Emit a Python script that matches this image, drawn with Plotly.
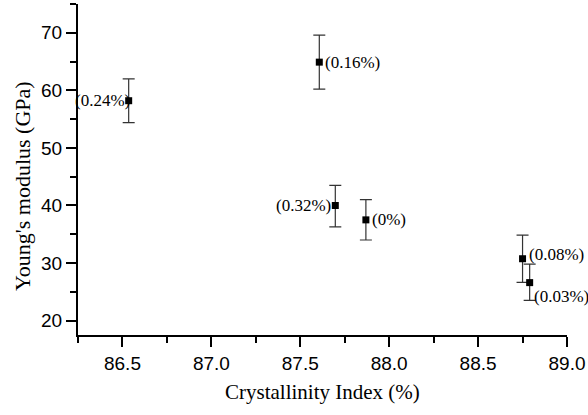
import plotly.graph_objects as go

labels = ["(0.24%)", "(0.16%)", "(0.32%)", "(0%)", "(0.08%)", "(0.03%)"]
crystallinity = [86.535, 87.607, 87.697, 87.869, 88.75, 88.79]
modulus = [58.2, 64.9, 40.0, 37.5, 30.75, 26.6]
err_plus = [3.8, 4.7, 3.5, 3.5, 4.1, 3.2]
err_minus = [3.8, 4.7, 3.7, 3.5, 4.1, 3.1]

label_anchor = ["right", "left", "right", "left", "left", "left"]
label_xshift = [3, 4, -2, 4, 4, 2]
label_yshift = [0, 0, 0, 0, 4, -14]

SERIF = "Liberation Serif, Times New Roman, serif"
SANS = "Liberation Sans, Arial, sans-serif"

fig = go.Figure()
fig.add_trace(go.Scatter(
    x=crystallinity, y=modulus, mode="markers",
    marker=dict(symbol="square", size=7, color="black"),
    error_y=dict(type="data", array=err_plus, arrayminus=err_minus,
                 color="#333333", thickness=1.2, width=6, visible=True),
    showlegend=False, cliponaxis=False,
))

for lab, xv, yv, anc, xs, ys in zip(labels, crystallinity, modulus, label_anchor, label_xshift, label_yshift):
    fig.add_annotation(x=xv, y=yv, text=lab, showarrow=False, xanchor=anc, yanchor="middle",
                       xshift=xs, yshift=ys, font=dict(family=SERIF, size=17, color="black"))

fig.add_annotation(xref="paper", yref="paper", x=0.5, y=-0.172, text="Crystallinity Index (%)",
                   showarrow=False, xanchor="center", yanchor="middle",
                   font=dict(family=SERIF, size=21, color="black"))
fig.add_annotation(xref="paper", yref="paper", x=-0.1148, y=0.45, text="Young's modulus (GPa)",
                   showarrow=False, xanchor="center", yanchor="middle", textangle=-90,
                   font=dict(family=SERIF, size=22, color="black"))

axis_common = dict(showline=True, linecolor="black", linewidth=2, showgrid=False, zeroline=False,
                   ticks="outside", ticklen=10, tickwidth=2, tickcolor="black",
                   tickfont=dict(family=SANS, size=19, color="black"))

fig.update_xaxes(range=[86.25, 89.0], dtick=0.5, tick0=86.5, tickformat=".1f",
                 minor=dict(dtick=0.25, tick0=86.25, ticks="outside", ticklen=6, tickwidth=2, tickcolor="black"),
                 **axis_common)
fig.update_yaxes(range=[17.5, 75], dtick=10, tick0=20,
                 minor=dict(dtick=5, tick0=20, ticks="outside", ticklen=6, tickwidth=2, tickcolor="black"),
                 **axis_common)

fig.update_layout(width=588, height=415, margin=dict(l=78, r=21, t=4, b=80),
                  plot_bgcolor="white", paper_bgcolor="white")

fig.write_html("out.html")
